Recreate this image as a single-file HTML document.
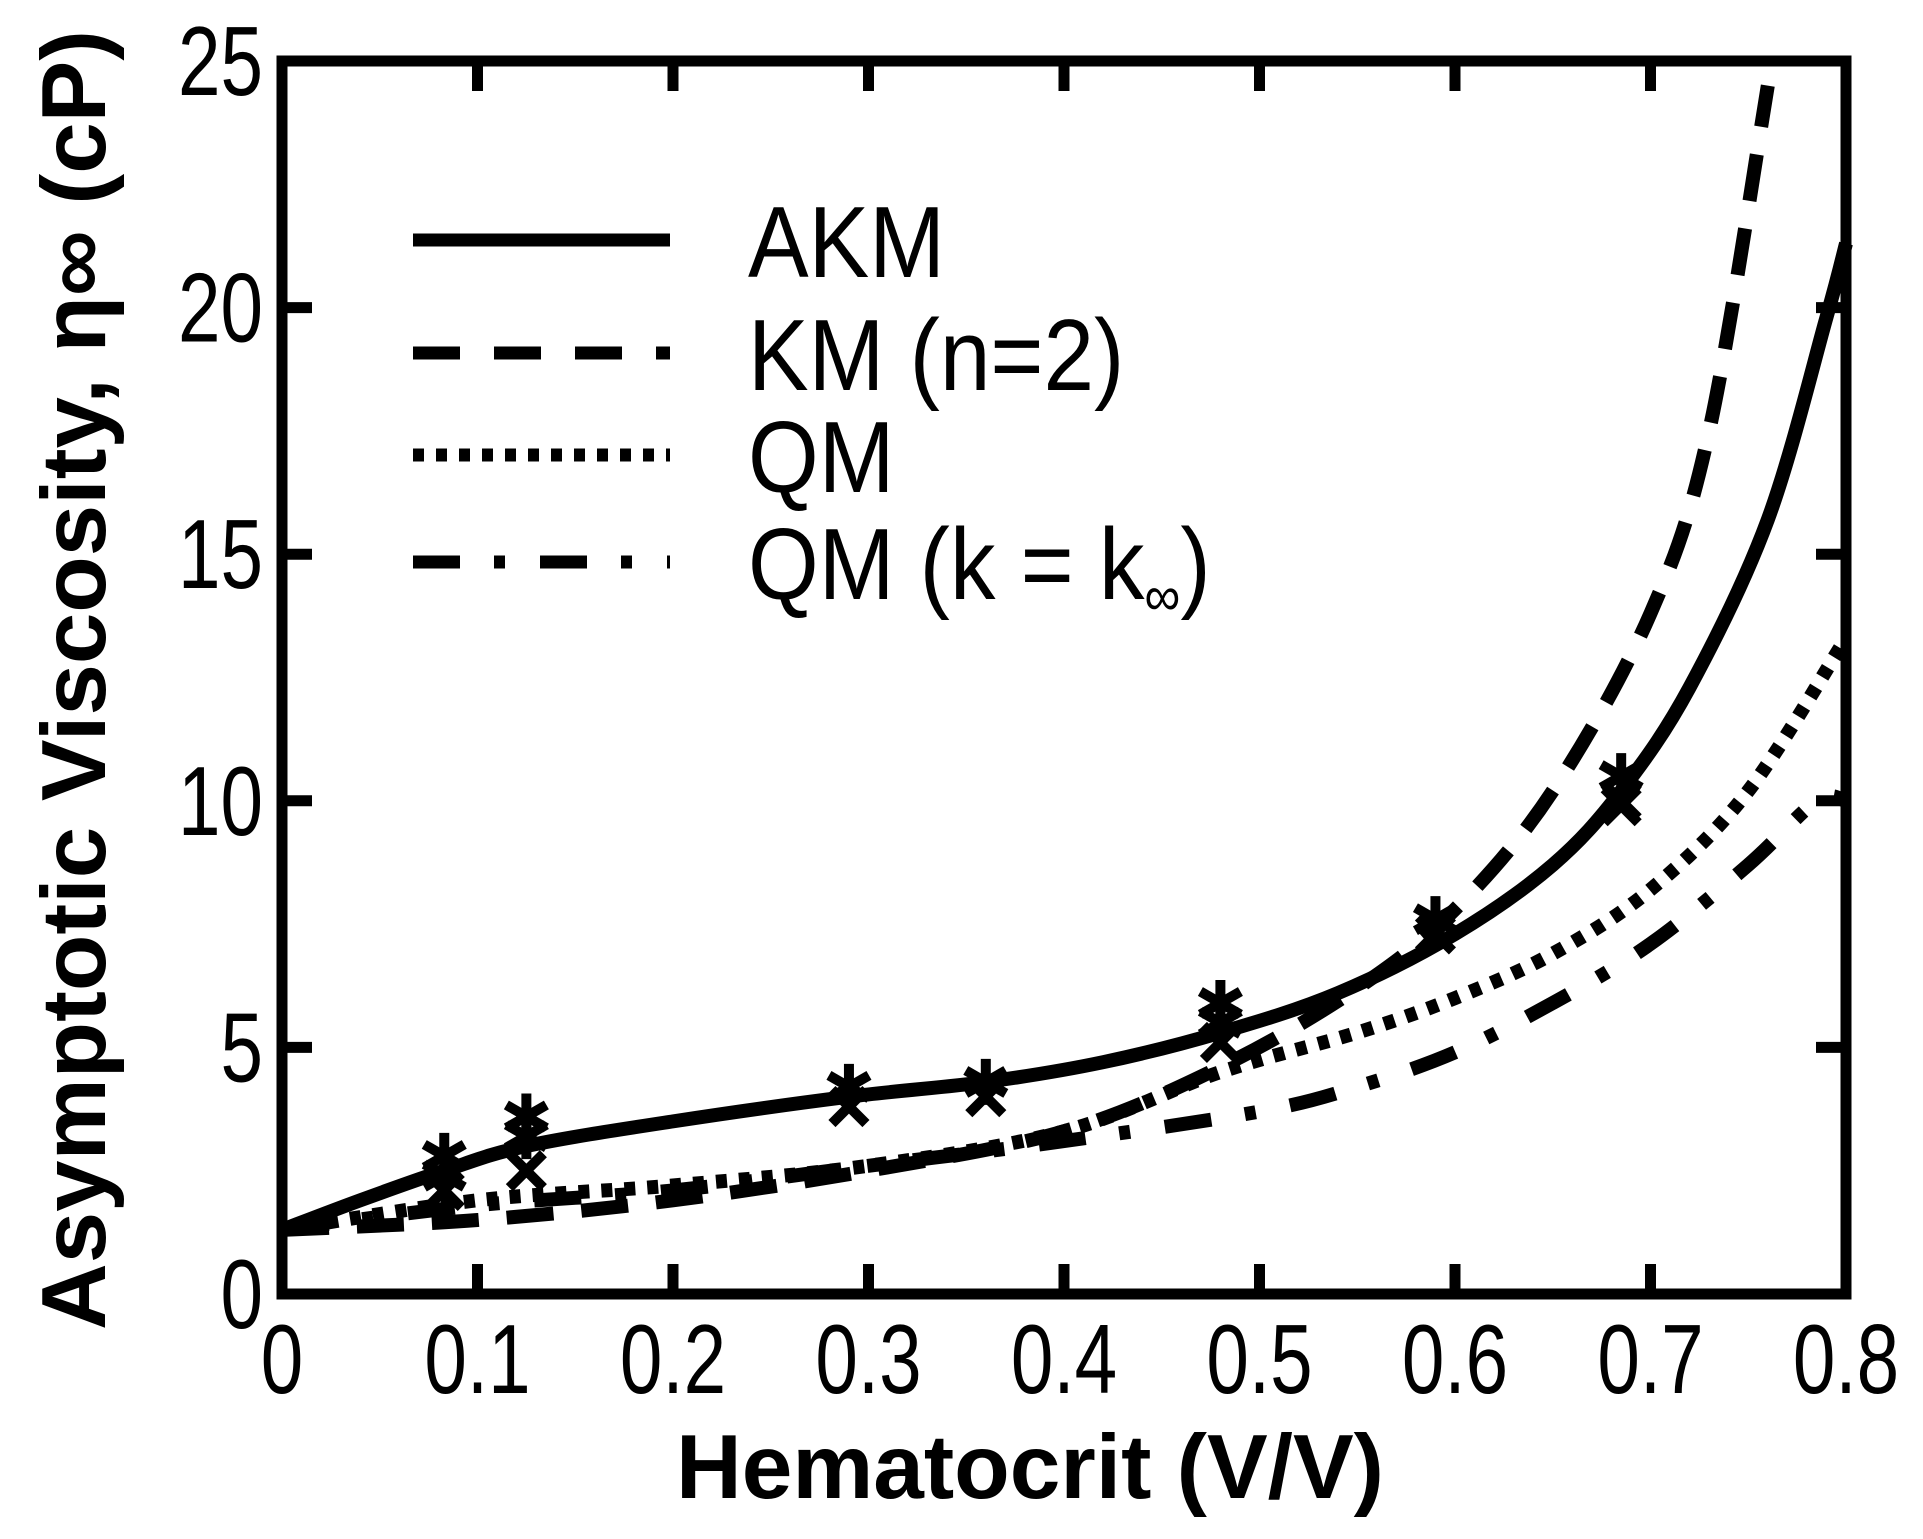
<!DOCTYPE html>
<html><head><meta charset="utf-8">
<style>
html,body{margin:0;padding:0;background:#fff;}
svg{display:block;font-family:"Liberation Sans",sans-serif;}
</style></head>
<body>
<svg id="chart" width="1923" height="1539" viewBox="0 0 1923 1539" xmlns="http://www.w3.org/2000/svg">
<g id="plot"></g>
<g id="axes"></g>
<g id="legend"></g>
</svg>
<script>
const xTicks = [0, 0.1, 0.2, 0.3, 0.4, 0.5, 0.6, 0.7, 0.8];
const xTickLabels = ["0", "0.1", "0.2", "0.3", "0.4", "0.5", "0.6", "0.7", "0.8"];
const yTicks = [0, 5, 10, 15, 20, 25];
const yTickLabels = ["0", "5", "10", "15", "20", "25"];

const akmX = [0, 0.04, 0.083, 0.125, 0.2, 0.29, 0.36, 0.42, 0.48, 0.54, 0.6, 0.65, 0.685, 0.72, 0.76, 0.79, 0.8];
const akmY = [1.3, 1.9, 2.5, 3.0, 3.5, 4.0, 4.3, 4.7, 5.3, 6.1, 7.3, 8.7, 10.2, 12.3, 15.7, 19.8, 21.3];
const kmX = [0, 0.1, 0.2, 0.3, 0.4, 0.48, 0.55, 0.6, 0.65, 0.7, 0.73, 0.76];
const kmY = [1.3, 1.5, 1.9, 2.5, 3.3, 4.6, 6.2, 7.8, 10.2, 13.8, 17.5, 24.5];
const qmX = [0, 0.1, 0.2, 0.3, 0.4, 0.48, 0.55, 0.6, 0.65, 0.7, 0.75, 0.8];
const qmY = [1.3, 1.9, 2.2, 2.6, 3.3, 4.5, 5.3, 6.0, 6.9, 8.2, 10.2, 13.3];
const qmkX = [0, 0.1, 0.2, 0.3, 0.4, 0.5, 0.55, 0.6, 0.65, 0.7, 0.75, 0.785, 0.8];
const qmkY = [1.3, 1.8, 2.1, 2.6, 3.1, 3.7, 4.2, 4.9, 5.9, 7.1, 8.7, 10.0, 10.0];

const starX = [0.083, 0.083, 0.125, 0.125, 0.29, 0.36, 0.48, 0.48, 0.59, 0.685];
const starY = [2.8, 2.4, 3.6, 3.2, 4.2, 4.3, 5.9, 5.5, 7.6, 10.5];
const crossX = [0.083, 0.125, 0.29, 0.36, 0.48, 0.59, 0.685, 0.685];
const crossY = [2.1, 2.5, 3.8, 4.0, 5.1, 7.3, 10.0, 9.9];

const L = 282, R = 1846, T = 61, B = 1294;
const NS = "http://www.w3.org/2000/svg";
function sx(v){ return L + (v - 0) / 0.8 * (R - L); }
function sy(v){ return B - v / 25 * (B - T); }
function mk(tag, attrs, parent){
  const e = document.createElementNS(NS, tag);
  for (const k in attrs) e.setAttribute(k, attrs[k]);
  parent.appendChild(e);
  return e;
}
function smoothPath(xs, ys){
  const p = xs.map((x,i)=>[sx(x), sy(ys[i])]);
  let d = "M" + p[0][0] + "," + p[0][1];
  for (let i=0;i<p.length-1;i++){
    const p0=p[Math.max(0,i-1)], p1=p[i], p2=p[i+1], p3=p[Math.min(p.length-1,i+2)];
    const c1=[p1[0]+(p2[0]-p0[0])/6, p1[1]+(p2[1]-p0[1])/6];
    const c2=[p2[0]-(p3[0]-p1[0])/6, p2[1]-(p3[1]-p1[1])/6];
    d += " C"+c1[0]+","+c1[1]+" "+c2[0]+","+c2[1]+" "+p2[0]+","+p2[1];
  }
  return d;
}
const plot = document.getElementById('plot');
const axes = document.getElementById('axes');
const legend = document.getElementById('legend');

const series = [
  {name:'akm-curve', xs:akmX, ys:akmY, dash:'none'},
  {name:'km-n2-curve', xs:kmX, ys:kmY, dash:'47 28'},
  {name:'qm-curve', xs:qmX, ys:qmY, dash:'11 12'},
  {name:'qm-kinf-curve', xs:qmkX, ys:qmkY, dash:'47 34 11 35'}
];
series.forEach(s=>{
  const e = mk('path', {d:smoothPath(s.xs, s.ys), fill:'none', stroke:'#000', 'stroke-width':14, 'stroke-dasharray':s.dash}, plot);
  
  
});

starX.forEach((x,i)=>{
  const cx=sx(x), cy=sy(starY[i]), r=23;
  const g = mk('g', {stroke:'#000','stroke-width':10}, plot);
  
  
  mk('line',{x1:cx,y1:cy-r,x2:cx,y2:cy+r},g);
  mk('line',{x1:cx-r*0.87,y1:cy-r*0.5,x2:cx+r*0.87,y2:cy+r*0.5},g);
  mk('line',{x1:cx-r*0.87,y1:cy+r*0.5,x2:cx+r*0.87,y2:cy-r*0.5},g);
});
crossX.forEach((x,i)=>{
  const cx=sx(x), cy=sy(crossY[i]), r=17;
  const g = mk('g', {stroke:'#000','stroke-width':10}, plot);
  
  
  mk('line',{x1:cx-r,y1:cy-r,x2:cx+r,y2:cy+r},g);
  mk('line',{x1:cx-r,y1:cy+r,x2:cx+r,y2:cy-r},g);
});

// frame
const frame = mk('rect',{x:L,y:T,width:R-L,height:B-T,fill:'none',stroke:'#000','stroke-width':11},axes);


xTicks.forEach((v,i)=>{
  const x=sx(v);
  if (i>0 && i<xTicks.length-1){
    mk('line',{x1:x,y1:B,x2:x,y2:B-30,stroke:'#000','stroke-width':11},axes);
    mk('line',{x1:x,y1:T,x2:x,y2:T+30,stroke:'#000','stroke-width':11},axes);
  }
  const t = mk('text',{x:0,y:0,'font-size':98,'text-anchor':'middle',transform:'translate('+x+',1393) scale(0.78,1)'},axes);
  t.textContent = xTickLabels[i];
  
  
});
yTicks.forEach((v,i)=>{
  const y=sy(v);
  if (i>0 && i<yTicks.length-1){
    mk('line',{x1:L,y1:y,x2:L+30,y2:y,stroke:'#000','stroke-width':11},axes);
    mk('line',{x1:R,y1:y,x2:R-30,y2:y,stroke:'#000','stroke-width':11},axes);
  }
  const t = mk('text',{x:0,y:0,'font-size':98,'text-anchor':'end',transform:'translate(263,'+(y+34)+') scale(0.78,1)'},axes);
  t.textContent = yTickLabels[i];
  
  
});
const xt = mk('text',{x:1030,y:1498,'font-size':91,'font-weight':'bold','text-anchor':'middle'},axes);
xt.textContent = 'Hematocrit (V/V)';


const yt = mk('text',{x:0,y:0,'font-size':91,'font-weight':'bold','text-anchor':'middle',transform:'translate(105,680) rotate(-90)',textLength:1300,lengthAdjust:'spacingAndGlyphs'},axes);
yt.textContent = 'Asymptotic Viscosity, \u03B7\u221E (cP)';



// legend
const legItems = [
  {y:240, dash:'none', label:'AKM', name:'legend-entry-akm'},
  {y:353, dash:'47 34', label:'KM (n=2)', name:'legend-entry-km'},
  {y:455, dash:'11 12', label:'QM', name:'legend-entry-qm'},
  {y:562, dash:'47 34 11 35', label:'', name:'legend-entry-qm-kinf'}
];
legItems.forEach(it=>{
  const g = mk('g',{},legend);
  
  
  mk('line',{x1:413,y1:it.y,x2:670,y2:it.y,stroke:'#000','stroke-width':13,'stroke-dasharray':it.dash},g);
  const t = mk('text',{x:0,y:0,'font-size':101,transform:'translate(748,'+(it.y+37)+') scale(0.9,1)'},g);
  if (it.label) t.textContent = it.label;
  else {
    t.textContent = 'QM (k = k';
    const s = mk('tspan',{'font-size':56,dy:16},t); s.textContent='\u221E';
    const e = mk('tspan',{dy:-16},t); e.textContent=')';
  }
});
</script>
</body></html>
